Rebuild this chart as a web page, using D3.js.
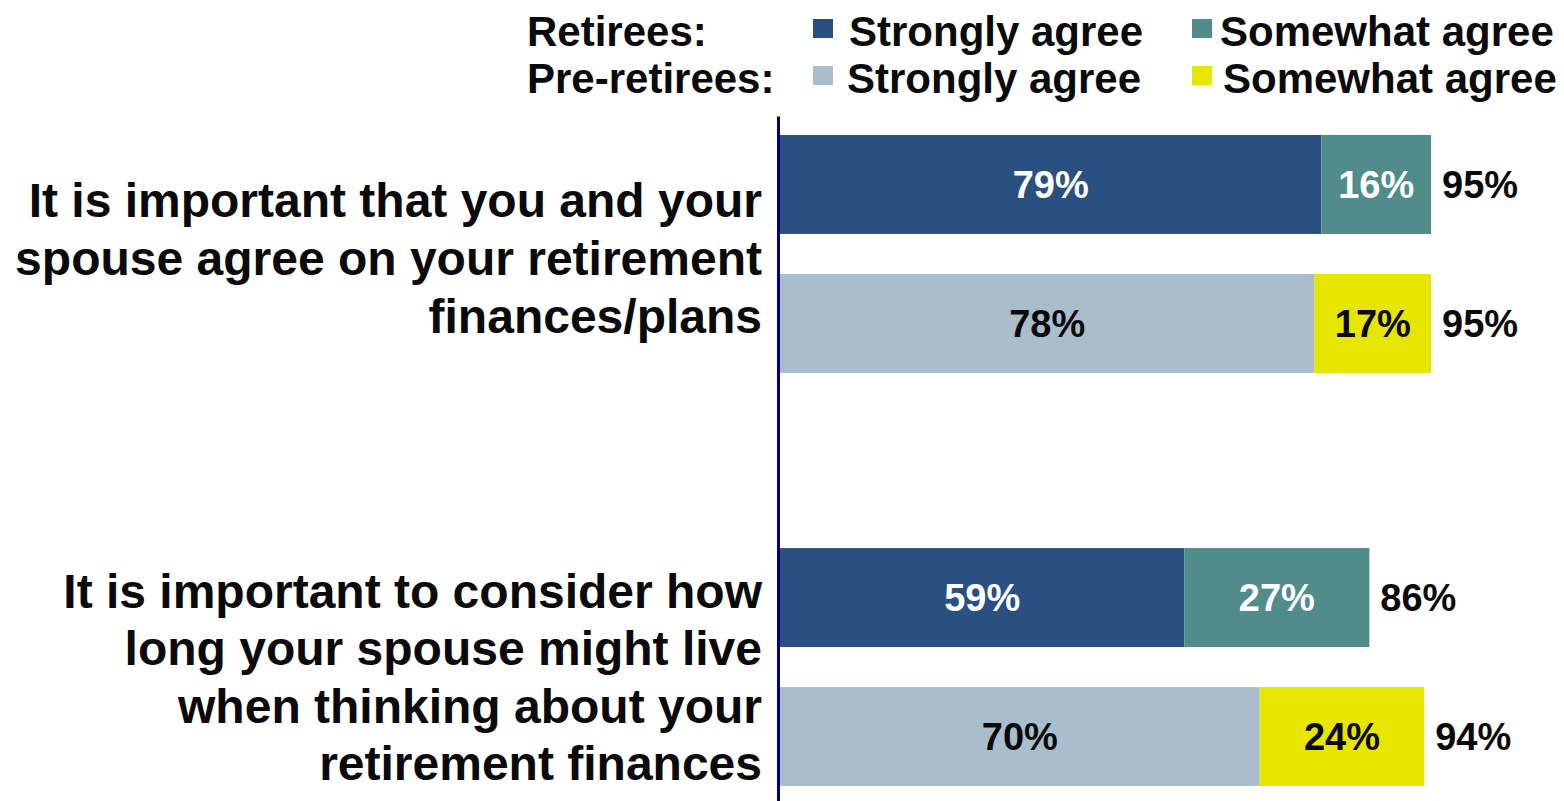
<!DOCTYPE html>
<html>
<head>
<meta charset="utf-8">
<script src="https://cdn.jsdelivr.net/npm/d3@7"></script>
<style>
  html, body { margin: 0; padding: 0; background: #fff; }
  svg { display: block; font-family: "Liberation Sans", Arial, sans-serif; font-weight: bold; }
</style>
</head>
<body>
<svg id="chart" width="1564" height="801"></svg>
<script>
// Statements (each broken into display lines)
const statements = [
  ["It is important that you and your", "spouse agree on your retirement", "finances/plans"],
  ["It is important to consider how", "long your spouse might live", "when thinking about your", "retirement finances"]
];
const statementKeys = ["agree", "longevity"];

// Respondent groups and answer categories
const groups = ["Retirees", "Pre-retirees"];
const groupLabels = ["Retirees:", "Pre-retirees:"];
const answers = ["Strongly agree", "Somewhat agree"];

// Percent values per statement: [strongly, somewhat]
const retireesValues = [[79, 16], [59, 27]];
const preRetireesValues = [[78, 17], [70, 24]];
const totals = [[95, 95], [86, 94]];

// Fill and label colours per group / answer
const fills = {
  "Retirees": ["#2a5082", "#508c8a"],
  "Pre-retirees": ["#aabdcd", "#e6e600"]
};
const labelColors = {
  "Retirees": ["#ffffff", "#ffffff"],
  "Pre-retirees": ["#0a0a0a", "#0a0a0a"]
};

const svg = d3.select("#chart");

const x = d3.scaleLinear().domain([0, 100]).range([780, 1465.3]);
const yOuter = d3.scaleBand().domain(statementKeys).range([135, 786]).paddingInner(0.424);
const yInner = d3.scaleBand().domain(groups).range([0, yOuter.bandwidth()]).paddingInner(0.288);

const rows = [];
statementKeys.forEach((k, si) => {
  groups.forEach((g, gi) => {
    const vals = gi === 0 ? retireesValues[si] : preRetireesValues[si];
    let start = 0;
    vals.forEach((v, ai) => {
      rows.push({ key: k, group: g, ai, start, value: v });
      start += v;
    });
  });
});

// Stacked bar segments
const seg = svg.append("g").selectAll("g.seg").data(rows).join("g").attr("class", "seg");
seg.append("rect")
  .attr("x", d => x(d.start))
  .attr("y", d => yOuter(d.key) + yInner(d.group))
  .attr("width", d => x(d.start + d.value) - x(d.start))
  .attr("height", yInner.bandwidth())
  .attr("fill", d => fills[d.group][d.ai]);
seg.append("text")
  .attr("x", d => (x(d.start) + x(d.start + d.value)) / 2)
  .attr("y", d => yOuter(d.key) + yInner(d.group) + yInner.bandwidth() / 2)
  .attr("dy", "0.36em")
  .attr("text-anchor", "middle")
  .attr("font-size", 38)
  .attr("fill", d => labelColors[d.group][d.ai])
  .text(d => d.value + "%");

// Totals beside each bar
const totalRows = [];
statementKeys.forEach((k, si) => groups.forEach((g, gi) => totalRows.push({ key: k, group: g, value: totals[si][gi] })));
svg.append("g").selectAll("text").data(totalRows).join("text")
  .attr("x", d => x(d.value) + 11)
  .attr("y", d => yOuter(d.key) + yInner(d.group) + yInner.bandwidth() / 2)
  .attr("dy", "0.36em")
  .attr("font-size", 38)
  .attr("fill", "#0a0a0a")
  .text(d => d.value + "%");

// Vertical axis line
const axis = d3.axisLeft(d3.scaleLinear().domain([0, 1]).range([116, 801])).ticks(0).tickSize(0).tickSizeOuter(0);
const axisG = svg.append("g").attr("transform", "translate(778,0)").call(axis);
axisG.selectAll("text").remove();
axisG.select(".domain").attr("stroke", "#000080").attr("stroke-width", 3);

// Statement labels, right aligned against the axis
const lineH = 57.6;
const labelShift = [4, 10];
statementKeys.forEach((k, si) => {
  const lines = statements[si];
  const mid = yOuter(k) + yOuter.bandwidth() / 2 + labelShift[si];
  const firstBase = mid - (lines.length - 1) * lineH / 2 + 17;
  svg.append("g").selectAll("text").data(lines).join("text")
    .attr("x", 762)
    .attr("y", (d, i) => firstBase + i * lineH)
    .attr("text-anchor", "end")
    .attr("font-size", 48)
    .attr("fill", "#0a0a0a")
    .text(d => d);
});

// Legend
const legend = svg.append("g");
const rowBase = [46, 93];
const swX = [813, 1192];
const txX = [[849, 1220], [847, 1223]];
groups.forEach((g, gi) => {
  legend.append("text")
    .attr("x", 527).attr("y", rowBase[gi])
    .attr("font-size", 42).attr("fill", "#0a0a0a")
    .text(groupLabels[gi]);
  answers.forEach((a, ai) => {
    legend.append("rect")
      .attr("x", swX[ai]).attr("y", rowBase[gi] - 27)
      .attr("width", 20).attr("height", 19)
      .attr("fill", fills[g][ai]);
    legend.append("text")
      .attr("x", txX[gi][ai]).attr("y", rowBase[gi])
      .attr("font-size", 42).attr("fill", "#0a0a0a")
      .text(a);
  });
});
</script>
</body>
</html>
